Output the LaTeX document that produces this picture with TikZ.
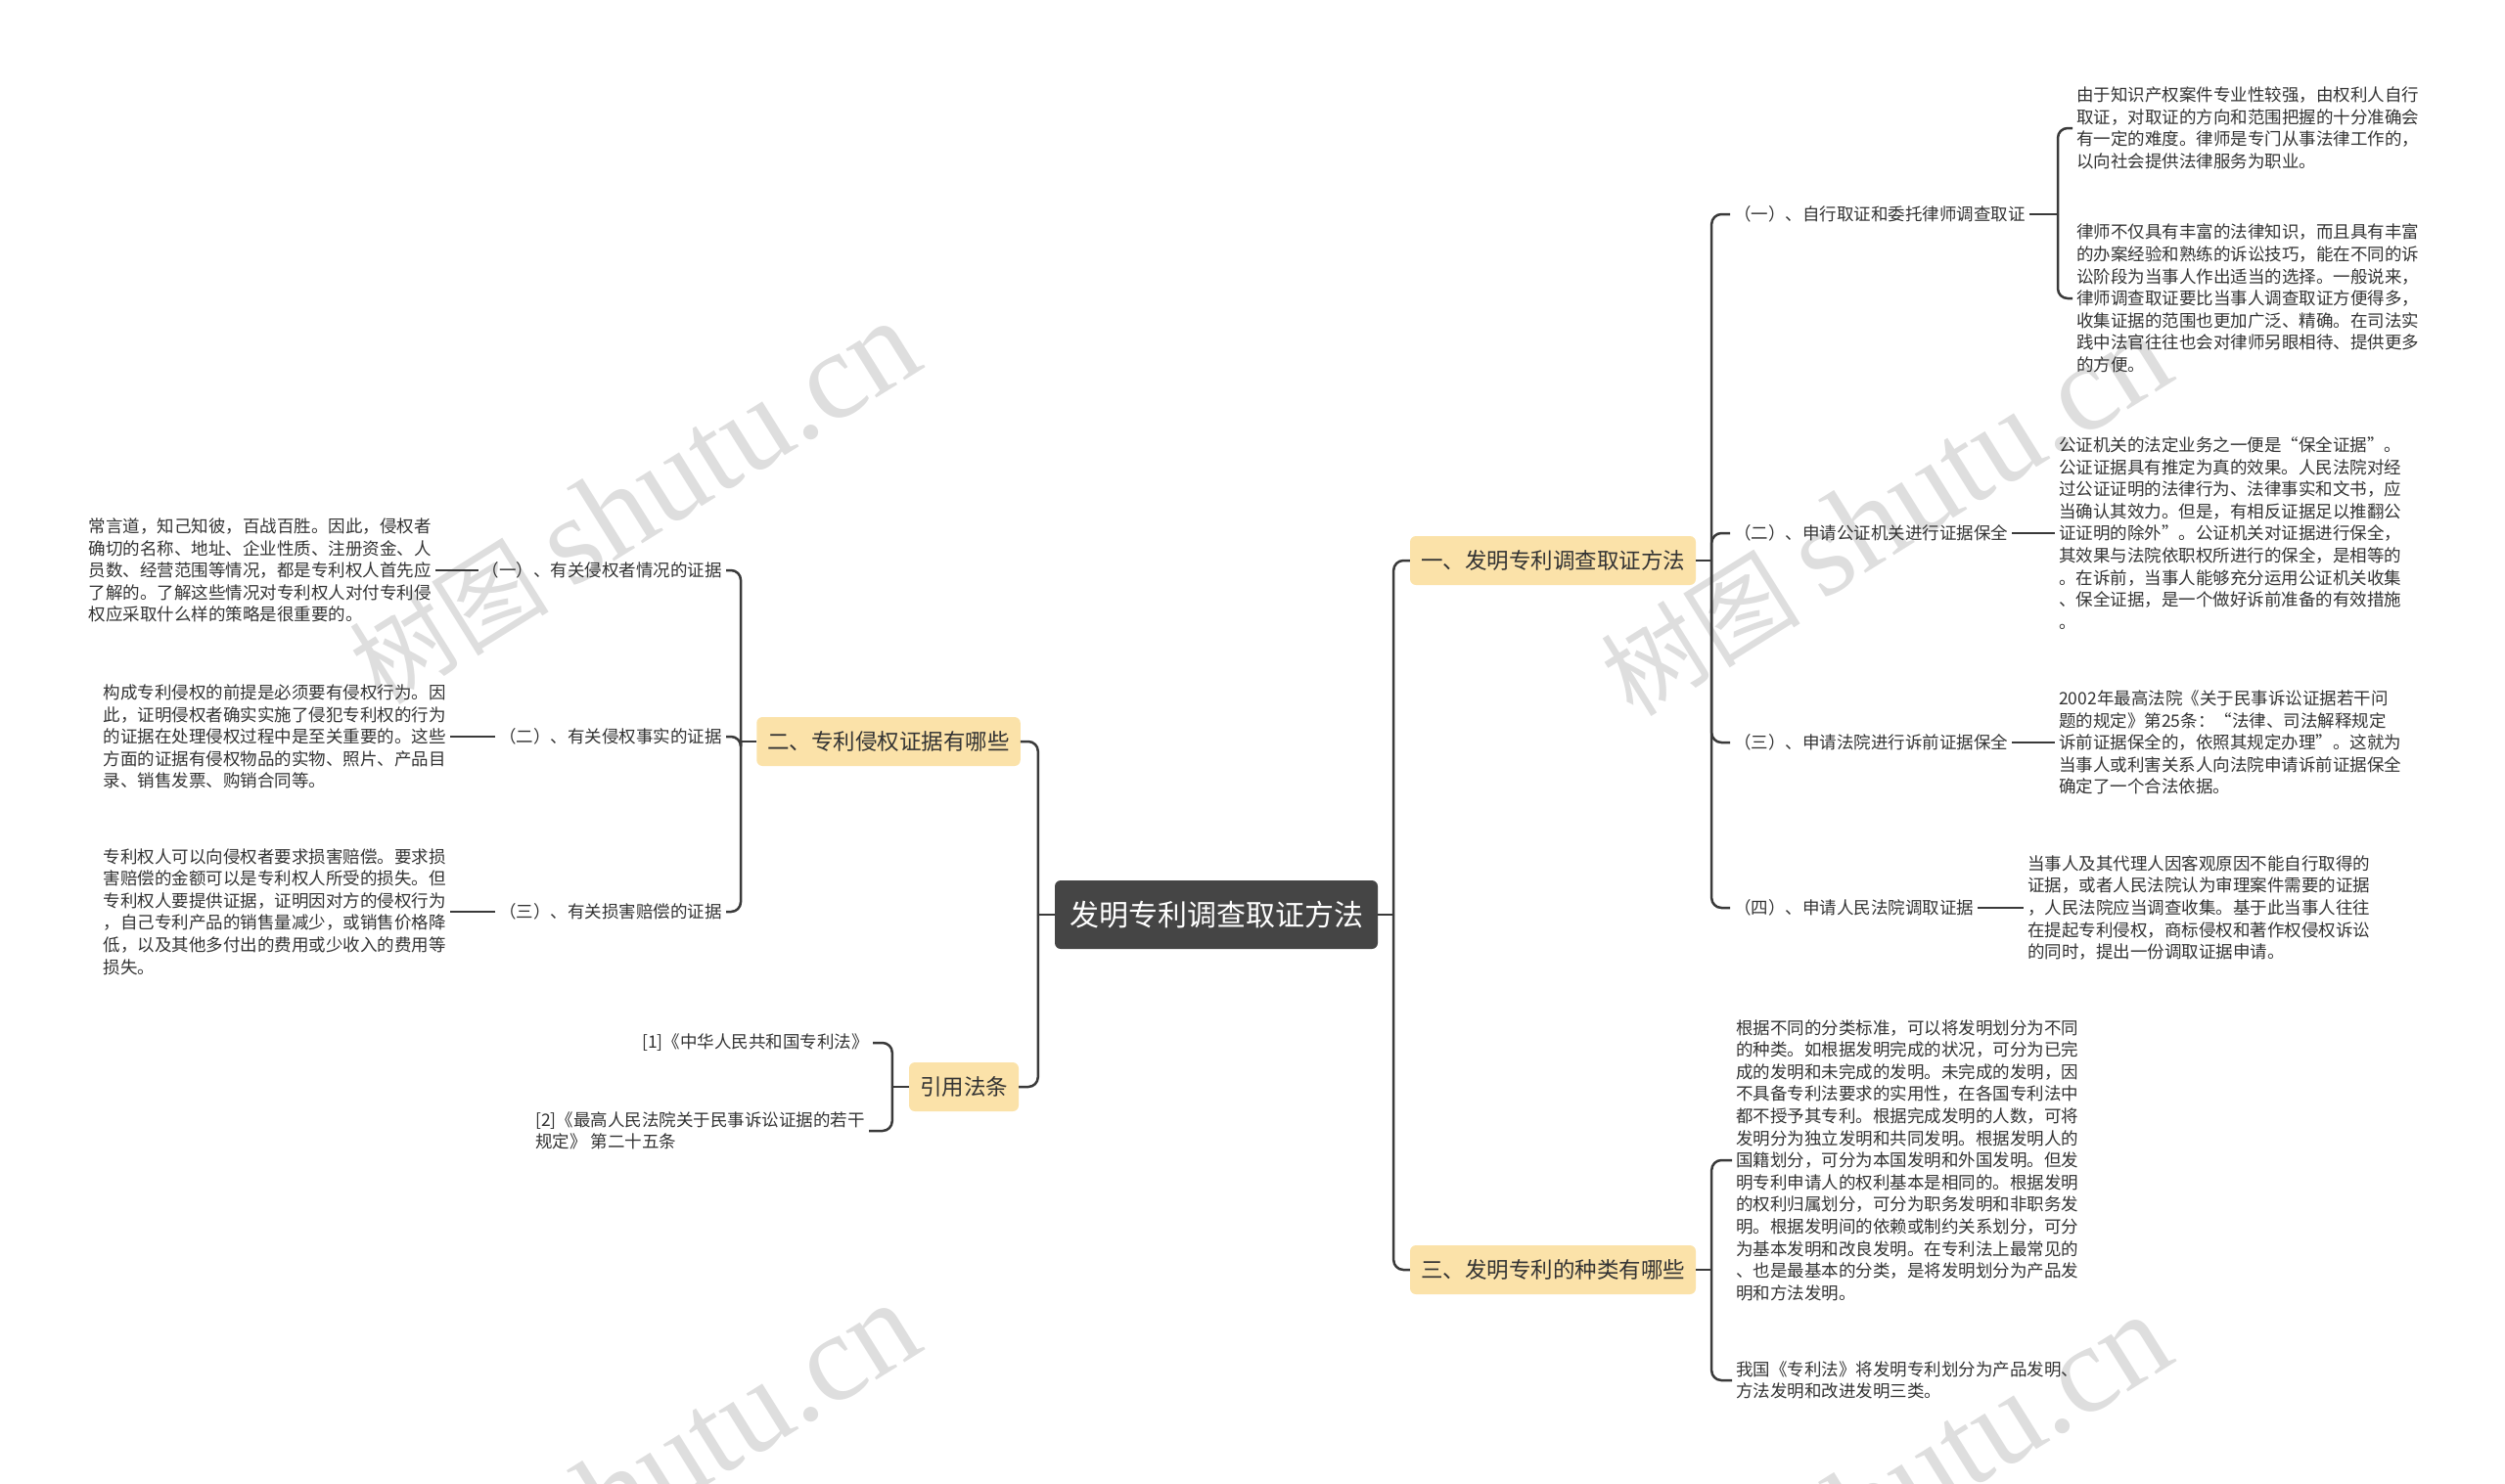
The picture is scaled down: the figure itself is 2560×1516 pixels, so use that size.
\documentclass[tikz,border=0pt]{standalone}
\usepackage{fontspec}
\setmainfont{Noto Sans CJK SC}
\newfontfamily\markfont{Liberation Serif}
\usetikzlibrary{positioning}

\definecolor{rootgray}{HTML}{454545}
\definecolor{topicyellow}{HTML}{FBE2A9}
\definecolor{inkgray}{HTML}{333333}
\definecolor{linegray}{HTML}{3A3A3A}
\definecolor{markgray}{HTML}{DEDEDE}

\tikzset{
  rootbox/.style={fill=rootgray, text=white, rounded corners=6pt,
    font=\fontsize{30}{36}\selectfont, inner xsep=15pt, minimum height=70pt},
  topicbox/.style={fill=topicyellow, text=inkgray, rounded corners=6pt,
    font=\fontsize{22.5}{27}\selectfont, inner xsep=11pt, minimum height=50pt},
  itembox/.style={text=inkgray, font=\fontsize{17.5}{22.6}\selectfont, inner sep=4pt},
  leafbox/.style={text=inkgray, font=\fontsize{17.5}{22.6}\selectfont, align=left, inner sep=4pt},
  link/.style={draw=linegray, line width=2.5pt, rounded corners=10pt},
  watermark/.style={text=markgray, rotate=32, font=\fontsize{102}{106}\selectfont},
}

\begin{document}
\begin{tikzpicture}[x=1pt, y=-1pt]
    \useasboundingbox (0,0) rectangle (2560,1516);

    % Watermarks
    \begin{scope}
        \clip (0,0) rectangle (2560,1516);
        \foreach \wx/\wy in {648/514, 1927/526, 648/1518, 1927/1530}
            \node[watermark] at (\wx,\wy) {树图 {\markfont\fontsize{128}{128}\selectfont shutu.cn}};
    \end{scope}

    % Root and topics
    \node[rootbox] (root) at (1243,935) {发明专利调查取证方法};
    \node[topicbox] (method) at (1587,573) {一、发明专利调查取证方法};
    \node[topicbox] (kinds) at (1587,1298) {三、发明专利的种类有哪些};
    \node[topicbox] (proof) at (908,758) {二、专利侵权证据有哪些};
    \node[topicbox] (cite) at (985,1111) {引用法条};

    % Ways of collecting evidence
    \node[itembox, anchor=west] (self) at (1768,219) {（一）、自行取证和委托律师调查取证};
    \node[itembox, anchor=west] (notary) at (1768,545) {（二）、申请公证机关进行证据保全};
    \node[itembox, anchor=west] (court) at (1768,759) {（三）、申请法院进行诉前证据保全};
    \node[itembox, anchor=west] (fetch) at (1768,928) {（四）、申请人民法院调取证据};

    \node[leafbox, anchor=west] (selfa) at (2118,131) {由于知识产权案件专业性较强，由权利人自行\\取证，对取证的方向和范围把握的十分准确会\\有一定的难度。律师是专门从事法律工作的，\\以向社会提供法律服务为职业。};
    \node[leafbox, anchor=west] (selfb) at (2118,305) {律师不仅具有丰富的法律知识，而且具有丰富\\的办案经验和熟练的诉讼技巧，能在不同的诉\\讼阶段为当事人作出适当的选择。一般说来，\\律师调查取证要比当事人调查取证方便得多，\\收集证据的范围也更加广泛、精确。在司法实\\践中法官往往也会对律师另眼相待、提供更多\\的方便。};
    \node[leafbox, anchor=west] (notarytext) at (2100,545) {公证机关的法定业务之一便是“保全证据”。\\公证证据具有推定为真的效果。人民法院对经\\过公证证明的法律行为、法律事实和文书，应\\当确认其效力。但是，有相反证据足以推翻公\\证证明的除外”。公证机关对证据进行保全，\\其效果与法院依职权所进行的保全，是相等的\\。在诉前，当事人能够充分运用公证机关收集\\、保全证据，是一个做好诉前准备的有效措施\\。};
    \node[leafbox, anchor=west] (courttext) at (2100,759) {2002年最高法院《关于民事诉讼证据若干问\\题的规定》第25条：“法律、司法解释规定\\诉前证据保全的，依照其规定办理”。这就为\\当事人或利害关系人向法院申请诉前证据保全\\确定了一个合法依据。};
    \node[leafbox, anchor=west] (fetchtext) at (2068,928) {当事人及其代理人因客观原因不能自行取得的\\证据，或者人民法院认为审理案件需要的证据\\，人民法院应当调查收集。基于此当事人往往\\在提起专利侵权，商标侵权和著作权侵权诉讼\\的同时，提出一份调取证据申请。};

    % Kinds of patents
    \node[leafbox, anchor=west] (kindsa) at (1770,1186) {根据不同的分类标准，可以将发明划分为不同\\的种类。如根据发明完成的状况，可分为已完\\成的发明和未完成的发明。未完成的发明，因\\不具备专利法要求的实用性，在各国专利法中\\都不授予其专利。根据完成发明的人数，可将\\发明分为独立发明和共同发明。根据发明人的\\国籍划分，可分为本国发明和外国发明。但发\\明专利申请人的权利基本是相同的。根据发明\\的权利归属划分，可分为职务发明和非职务发\\明。根据发明间的依赖或制约关系划分，可分\\为基本发明和改良发明。在专利法上最常见的\\、也是最基本的分类，是将发明划分为产品发\\明和方法发明。};
    \node[leafbox, anchor=west] (kindsb) at (1770,1411) {我国《专利法》将发明专利划分为产品发明、\\方法发明和改进发明三类。};

    % Evidence of infringement
    \node[itembox, anchor=east] (party) at (742,583) {（一）、有关侵权者情况的证据};
    \node[itembox, anchor=east] (fact) at (742,753) {（二）、有关侵权事实的证据};
    \node[itembox, anchor=east] (loss) at (742,932) {（三）、有关损害赔偿的证据};

    \node[leafbox, anchor=east] (partytext) at (445,583) {常言道，知己知彼，百战百胜。因此，侵权者\\确切的名称、地址、企业性质、注册资金、人\\员数、经营范围等情况，都是专利权人首先应\\了解的。了解这些情况对专利权人对付专利侵\\权应采取什么样的策略是很重要的。};
    \node[leafbox, anchor=east] (facttext) at (460,753) {构成专利侵权的前提是必须要有侵权行为。因\\此，证明侵权者确实实施了侵犯专利权的行为\\的证据在处理侵权过程中是至关重要的。这些\\方面的证据有侵权物品的实物、照片、产品目\\录、销售发票、购销合同等。};
    \node[leafbox, anchor=east] (losstext) at (460,932) {专利权人可以向侵权者要求损害赔偿。要求损\\害赔偿的金额可以是专利权人所受的损失。但\\专利权人要提供证据，证明因对方的侵权行为\\，自己专利产品的销售量减少，或销售价格降\\低，以及其他多付出的费用或少收入的费用等\\损失。};

    % Cited laws
    \node[leafbox, anchor=east] (law) at (892,1066) {[1]《中华人民共和国专利法》};
    \node[leafbox, anchor=east] (rule) at (888,1156) {[2]《最高人民法院关于民事诉讼证据的若干\\规定》 第二十五条};

    % Junctions
    \coordinate (rootR) at ([xshift=16pt]root.east);
    \coordinate (rootL) at ([xshift=-17pt]root.west);
    \coordinate (methodJ) at ([xshift=16pt]method.east);
    \coordinate (kindsJ) at ([xshift=16pt]kinds.east);
    \coordinate (proofJ) at ([xshift=-16pt]proof.west);
    \coordinate (citeJ) at ([xshift=-17pt]cite.west);
    \coordinate (selfJ) at (2103,219);

    % Connectors
    \draw[link] (root.east) -- (rootR);
    \draw[link] (rootR) |- (method.west);
    \draw[link] (rootR) |- (kinds.west);
    \draw[link] (root.west) -- (rootL);
    \draw[link] (rootL) |- (proof.east);
    \draw[link] (rootL) |- (cite.east);

    \draw[link] (method.east) -- (methodJ);
    \foreach \n in {self, notary, court, fetch}
        \draw[link] (methodJ) |- (\n.west);
    \draw[link] (self.east) -- (selfJ);
    \draw[link] (selfJ) |- (selfa.west);
    \draw[link] (selfJ) |- (selfb.west);
    \draw[link] (notary.east) -- (notarytext.west);
    \draw[link] (court.east) -- (courttext.west);
    \draw[link] (fetch.east) -- (fetchtext.west);

    \draw[link] (kinds.east) -- (kindsJ);
    \draw[link] (kindsJ) |- (kindsa.west);
    \draw[link] (kindsJ) |- (kindsb.west);

    \draw[link] (proof.west) -- (proofJ);
    \foreach \n in {party, fact, loss}
        \draw[link] (proofJ) |- (\n.east);
    \draw[link] (party.west) -- (partytext.east);
    \draw[link] (fact.west) -- (facttext.east);
    \draw[link] (loss.west) -- (losstext.east);

    \draw[link] (cite.west) -- (citeJ);
    \draw[link] (citeJ) |- (law.east);
    \draw[link] (citeJ) |- (rule.east);
\end{tikzpicture}
\end{document}
